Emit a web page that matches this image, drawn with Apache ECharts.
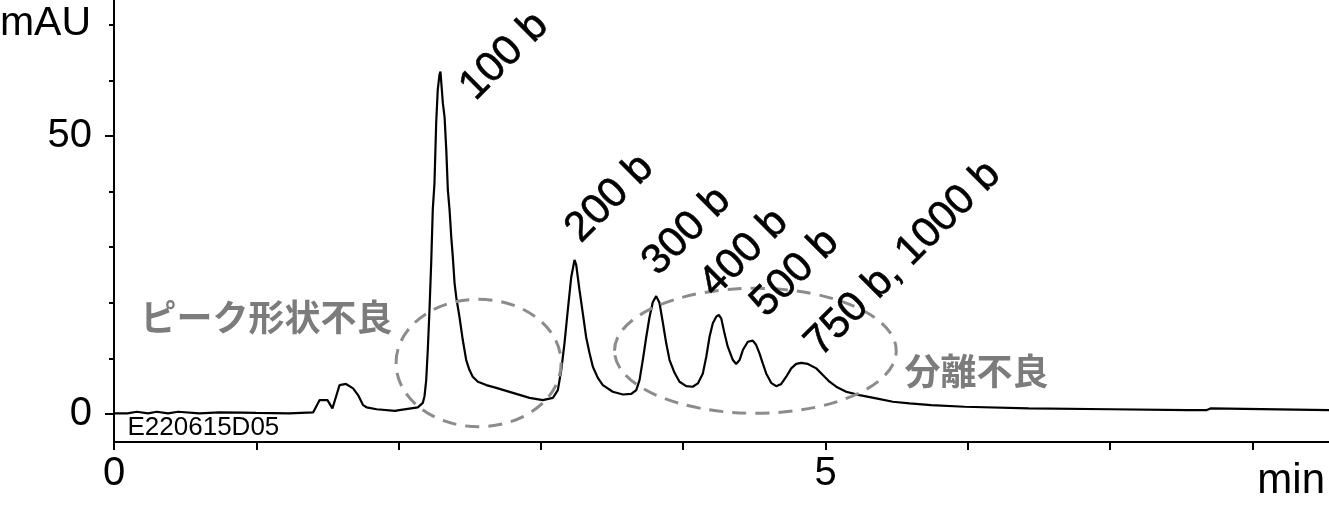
<!DOCTYPE html>
<html>
<head>
<meta charset="utf-8">
<script src="https://cdn.jsdelivr.net/npm/echarts@6/dist/echarts.min.js"></script>
<style>
  html, body { margin: 0; padding: 0; background: #fff; }
  #chart { width: 1329px; height: 512px; }
</style>
</head>
<body>
<div id="chart"></div>
<script>
// retention time (min) and absorbance (mAU)
var times = [
  0.000, 0.095, 0.100, 0.160, 0.165, 0.240, 0.245, 0.300, 0.305, 0.380,
  0.385, 0.450, 0.455, 0.600, 0.605, 0.740, 0.745, 0.900, 1.000, 1.230,
  1.400, 1.410, 1.445, 1.500, 1.535, 1.560, 1.585, 1.630, 1.680, 1.715,
  1.750, 1.775, 1.845, 1.975, 2.005, 2.135, 2.170, 2.182, 2.194, 2.205,
  2.217, 2.229, 2.240, 2.252, 2.264, 2.275, 2.287, 2.294, 2.299, 2.311,
  2.323, 2.335, 2.346, 2.358, 2.370, 2.381, 2.393, 2.405, 2.428, 2.451,
  2.475, 2.498, 2.521, 2.557, 2.616, 2.686, 2.803, 2.920, 3.013, 3.084,
  3.119, 3.143, 3.166, 3.189, 3.213, 3.236, 3.248, 3.271, 3.295, 3.318,
  3.341, 3.365, 3.400, 3.435, 3.505, 3.576, 3.635, 3.670, 3.693, 3.716,
  3.740, 3.763, 3.786, 3.810, 3.833, 3.857, 3.880, 3.904, 3.939, 3.974,
  4.021, 4.067, 4.103, 4.138, 4.162, 4.185, 4.208, 4.232, 4.250, 4.267,
  4.290, 4.313, 4.349, 4.372, 4.396, 4.419, 4.454, 4.489, 4.513, 4.536,
  4.559, 4.583, 4.618, 4.653, 4.689, 4.724, 4.759, 4.794, 4.829, 4.876,
  4.935, 4.981, 5.028, 5.075, 5.145, 5.239, 5.356, 5.473, 5.590, 5.742,
  5.977, 6.427, 7.000, 7.544, 7.680, 7.685, 7.705, 7.710, 8.538
];
var signal = [
  0.10, 0.10, 0.40, 0.40, 0.10, 0.10, 0.40, 0.40, 0.10, 0.10,
  0.40, 0.40, 0.10, 0.10, 0.30, 0.30, 0.10, 0.25, 0.20, 0.10,
  0.30, 0.40, 2.50, 2.50, 1.00, 3.10, 5.20, 5.40, 4.60, 3.40,
  1.60, 1.20, 0.85, 0.55, 0.70, 1.20, 2.00, 3.20, 6.10, 11.5,
  18.7, 27.2, 36.7, 41.5, 52.3, 58.3, 61.0, 61.6, 61.3, 55.9,
  53.4, 47.5, 40.3, 36.7, 31.8, 28.2, 23.6, 21.0, 17.4, 13.3,
  9.7, 7.9, 6.7, 5.8, 5.2, 4.7, 3.8, 2.9, 2.5, 2.9,
  4.3, 7.9, 12.8, 18.7, 24.6, 27.7, 26.8, 22.3, 18.0, 13.8,
  11.0, 8.5, 6.5, 5.2, 4.0, 3.5, 3.6, 4.3, 6.1, 9.7,
  13.8, 17.4, 20.1, 21.2, 20.0, 16.4, 12.8, 9.7, 7.4, 5.8,
  5.0, 4.9, 5.5, 7.3, 10.3, 13.9, 16.3, 17.5, 17.8, 17.2,
  14.5, 12.1, 9.7, 9.0, 9.7, 11.5, 13.0, 13.2, 12.4, 10.9,
  9.1, 7.3, 5.6, 5.0, 5.4, 6.7, 8.2, 9.0, 9.2, 9.0,
  8.2, 7.0, 5.8, 4.9, 4.0, 3.4, 2.8, 2.2, 1.9, 1.6,
  1.3, 1.0, 0.85, 0.7, 0.7, 1.0, 1.0, 0.7, 0.7
];

// peak labels and where each label starts (min, mAU)
var peakNames = ['100 b', '200 b', '300 b', '400 b', '500 b', '750 b, 1000 b'];
var peakLabelAt = [[2.586, 55.0], [3.327, 29.4], [3.868, 23.5], [4.271, 19.6], [4.629, 16.0], [5.011, 8.9]];

// circled regions: centre time, centre mAU, half width (min), half height (mAU)
var regions = [[2.562, 9.17, 0.580, 11.46], [4.507, 11.37, 0.990, 11.24]];

var noteTexts = ['ピーク形状不良', '分離不良', 'E220615D05'];
var noteAt = [[0.186, 17.36], [5.555, 7.73], [0.095, -2.52]];

var xTicks = [0, 1, 2, 3, 4, 5, 6, 7, 8];
var xLabels = [0, 5];
var yMajor = [0, 50];
var yMinor = [10, 20, 30, 40, 60, 70];

var X_MAX = 8.538, Y_MIN = -5.04, Y_MAX = 74.46;
var FONT = "'Liberation Sans', Arial, sans-serif";
var JP = "'Noto Sans CJK JP', sans-serif";

var trace = times.map(function(t, i) { return [t, signal[i]]; });

var peakData = peakNames.map(function(n, i) {
    return { value: peakLabelAt[i], name: n };
});

var noteData = noteTexts.map(function(n, i) {
    var grey = i < 2;
    return {
        value: noteAt[i],
        name: n,
        label: grey ? {
            fontFamily: JP, fontSize: 36, fontWeight: 'bold', color: '#7c7c7c'
        } : {
            fontFamily: FONT, fontSize: 26, color: '#000'
        }
    };
});

var chart = echarts.init(document.getElementById('chart'), null, { renderer: 'canvas' });

var option = {
    animation: false,
    backgroundColor: '#fff',
    grid: { left: 114, right: 0, top: 0, bottom: 70, containLabel: false },
    xAxis: {
        type: 'value',
        min: 0,
        max: X_MAX,
        axisLine: { show: true, onZero: false, lineStyle: { color: '#000', width: 2 } },
        axisTick: { show: true, length: 8, customValues: xTicks, lineStyle: { color: '#000', width: 2 } },
        axisLabel: { customValues: xLabels, fontSize: 40, fontFamily: FONT, color: '#000', margin: 12 },
        splitLine: { show: false }
    },
    yAxis: [{
        type: 'value',
        min: Y_MIN,
        max: Y_MAX,
        position: 'left',
        axisLine: { show: true, lineStyle: { color: '#000', width: 2 } },
        axisTick: { show: true, length: 9, customValues: yMajor, lineStyle: { color: '#000', width: 2 } },
        axisLabel: { customValues: yMajor, fontSize: 40, fontFamily: FONT, color: '#000', margin: 22 },
        splitLine: { show: false }
    }, {
        type: 'value',
        min: Y_MIN,
        max: Y_MAX,
        position: 'left',
        axisLine: { show: false },
        axisTick: { show: true, length: 5, customValues: yMinor, lineStyle: { color: '#000', width: 2 } },
        axisLabel: { show: false },
        splitLine: { show: false }
    }],
    graphic: [{
        type: 'text',
        x: 91, y: 24,
        style: { text: 'mAU', font: '41px ' + FONT, fill: '#000', align: 'right', verticalAlign: 'middle' }
    }, {
        type: 'text',
        x: 1325, y: 481,
        style: { text: 'min', font: '42px ' + FONT, fill: '#000', align: 'right', verticalAlign: 'middle' }
    }],
    series: [{
        type: 'line',
        data: trace,
        showSymbol: false,
        symbol: 'none',
        lineStyle: { color: '#000', width: 2.2 },
        z: 3
    }, {
        type: 'custom',
        data: regions,
        encode: { x: 0, y: 1 },
        z: 4,
        renderItem: function(params, api) {
            var c = api.coord([api.value(0), api.value(1)]);
            var s = api.size([api.value(2), api.value(3)]);
            return {
                type: 'ellipse',
                shape: { cx: c[0], cy: c[1], rx: s[0], ry: s[1] },
                style: { fill: 'none', stroke: '#8c8c8c', lineWidth: 3, lineDash: [14, 9] }
            };
        }
    }, {
        type: 'scatter',
        data: peakData,
        symbolSize: 0,
        itemStyle: { color: 'transparent', opacity: 1 },
        z: 5,
        label: {
            show: true,
            formatter: '{b}',
            position: [0, 0],
            align: 'left',
            verticalAlign: 'bottom',
            rotate: 45,
            fontSize: 42,
            fontFamily: FONT,
            color: '#000',
            textBorderColor: '#000',
            textBorderWidth: 0.6
        }
    }, {
        type: 'scatter',
        data: noteData,
        symbolSize: 0,
        itemStyle: { color: 'transparent', opacity: 1 },
        z: 5,
        label: {
            show: true,
            formatter: '{b}',
            position: [0, 0],
            align: 'left',
            verticalAlign: 'middle'
        }
    }]
};

chart.setOption(option);
</script>
</body>
</html>
